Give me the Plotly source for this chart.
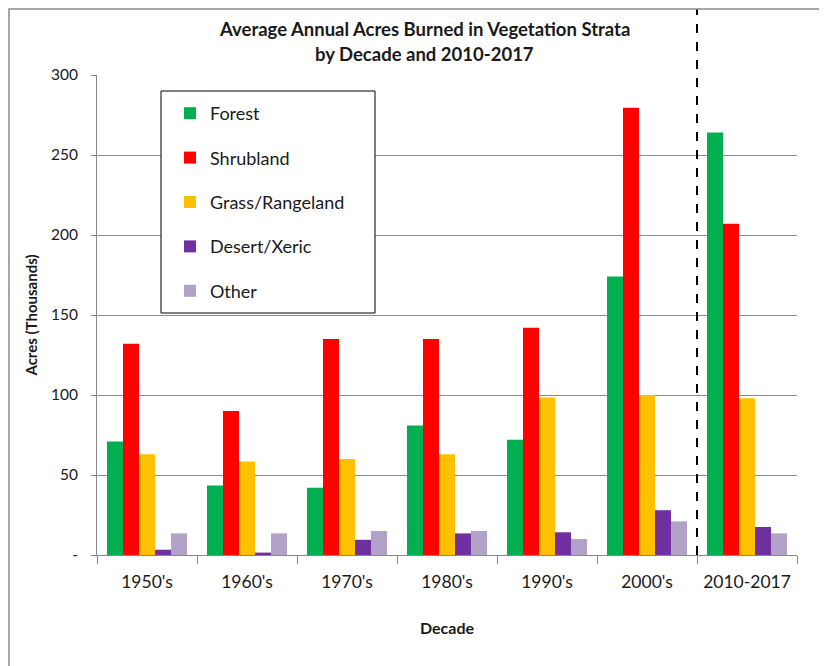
import plotly.graph_objects as go

decades = ["1950's", "1960's", "1970's", "1980's", "1990's", "2000's", "2010-2017"]
forest = [71, 43.5, 42, 81, 72, 174, 264]
shrubland = [132, 90, 135, 135, 142, 279.5, 207]
grass = [63, 58.5, 60, 63, 98.5, 100, 98]
desert = [3.3, 1.5, 9.5, 13.5, 14.2, 28, 17.5]
other = [13.5, 13.5, 15, 15, 10, 21, 13.5]

series = [
    ("Forest", forest, "#00B050"),
    ("Shrubland", shrubland, "#FF0000"),
    ("Grass/Rangeland", grass, "#FFC000"),
    ("Desert/Xeric", desert, "#7030A0"),
    ("Other", other, "#B3A2C7"),
]

y_tickvals = [0, 50, 100, 150, 200, 250, 300]
y_ticktext = ["-", "50", "100", "150", "200", "250", "300"]

FONT = "Lato, 'Open Sans', sans-serif"

# page body has an 8px offset; plot area target: x 97..797, y 75..555 on screen
OFF = 8
L = 97 - OFF

fig = go.Figure()
for i, (name, vals, color) in enumerate(series):
    fig.add_trace(go.Bar(
        x=decades, y=vals, name=name, marker_color=color,
        marker_line_width=0, legendgroup=f"g{i}",
    ))

fig.update_layout(
    width=827, height=666,
    paper_bgcolor="white", plot_bgcolor="white",
    margin=dict(l=L, r=30 + OFF, t=75 - OFF, b=111 + OFF),
    barmode="group", bargap=0.2, bargroupgap=0,
    font=dict(family=FONT, color="#1a1a1a", size=15),
    showlegend=True,
    legend=dict(
        x=(170 - 97) / 700, xanchor="left",
        y=(555 - 95) / 480, yanchor="top",
        bgcolor="rgba(0,0,0,0)", borderwidth=0,
        font=dict(size=18, family=FONT),
        tracegroupgap=18,
        itemwidth=30,
    ),
    annotations=[
        dict(text="<b>Average Annual Acres Burned in Vegetation Strata</b>",
             xref="paper", yref="paper", x=(424 - 97) / 700, y=(555 - 29) / 480,
             xanchor="center", yanchor="middle", showarrow=False,
             font=dict(size=18.5, family=FONT)),
        dict(text="<b>by Decade and 2010-2017</b>",
             xref="paper", yref="paper", x=(424 - 97) / 700, y=(555 - 54) / 480,
             xanchor="center", yanchor="middle", showarrow=False,
             font=dict(size=18.5, family=FONT)),
    ],
)

fig.update_xaxes(
    type="category",
    showline=True, linecolor="#888888", linewidth=1,
    ticks="outside", tickson="boundaries", ticklen=8, tickcolor="#888888",
    showgrid=False,
    tickfont=dict(size=17.5, family=FONT),
    ticklabelstandoff=11,
    title=dict(text="<b>Decade</b>", font=dict(size=16, family=FONT), standoff=31),
)

fig.update_yaxes(
    range=[0, 300],
    tickvals=y_tickvals, ticktext=y_ticktext,
    showline=True, linecolor="#888888", linewidth=1,
    ticks="outside", ticklen=5, tickcolor="#888888",
    showgrid=True, gridcolor="#8c8c8c", gridwidth=1,
    zeroline=False,
    tickfont=dict(size=15.5, family=FONT),
    ticklabelstandoff=10,
    title=dict(text="<b>Acres (Thousands)</b>", font=dict(size=15, family=FONT), standoff=9),
)

# legend box
fig.add_shape(type="rect", xref="paper", yref="paper",
              x0=(161 - 97) / 700, x1=(375 - 97) / 700,
              y0=(555 - 313) / 480, y1=(555 - 91) / 480,
              line=dict(color="#000000", width=1), fillcolor="white", layer="above")
# dashed separator
fig.add_shape(type="line", xref="x", yref="paper",
              x0=5.5, x1=5.5, y0=0, y1=(555 - 9) / 480,
              line=dict(color="black", width=2, dash="dash"))
# outer frame (as close to the page edge as the figure allows)
fig.add_shape(type="rect", xref="paper", yref="paper",
              x0=(1 - L) / 700, x1=1.2,
              y0=-0.5, y1=(555 - 9) / 480,
              line=dict(color="#8a8a8a", width=1.5))

fig.write_html("out.html")
